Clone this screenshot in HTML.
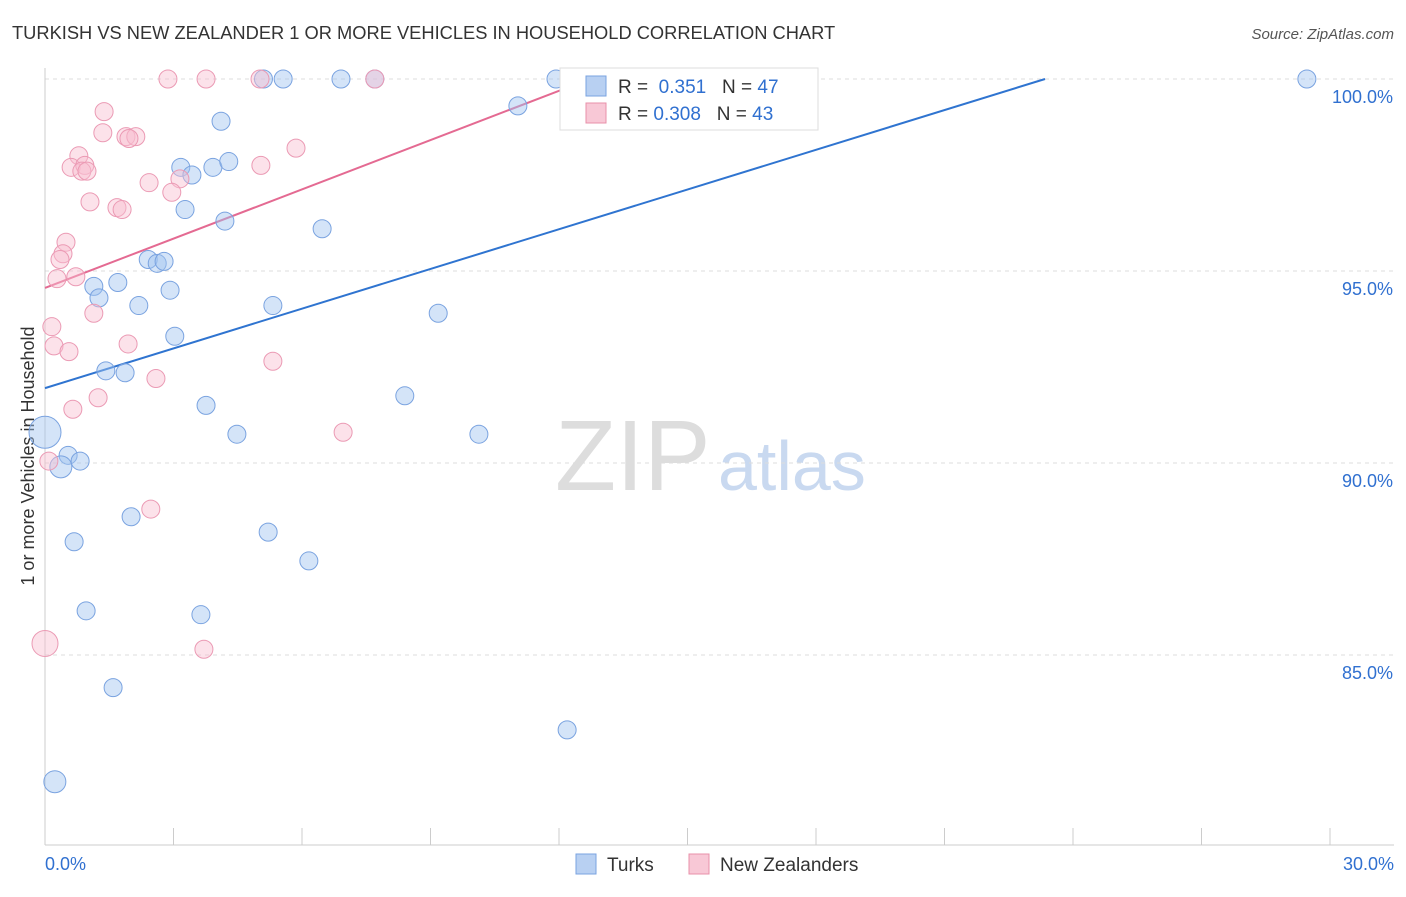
<!DOCTYPE html>
<html><head><meta charset="utf-8"><style>
body{margin:0;background:#fff;font-family:"Liberation Sans",sans-serif;}
svg text{font-family:"Liberation Sans",sans-serif;}
</style></head><body>
<svg id="chart" width="1406" height="892">
<text x="12" y="39" font-size="18.3" fill="#333">TURKISH VS NEW ZEALANDER 1 OR MORE VEHICLES IN HOUSEHOLD CORRELATION CHART</text>
<text x="1394" y="39" font-size="15" fill="#555" text-anchor="end" font-style="italic">Source: ZipAtlas.com</text>
<text x="555" y="490" font-size="100" fill="#ddd" font-family="Liberation Serif">ZIP</text>
<text x="718" y="490" font-size="70" fill="#c9d9f0">atlas</text>
<text transform="translate(34,456) rotate(-90)" font-size="18" fill="#333" text-anchor="middle">1 or more Vehicles in Household</text>
<g id="grid"></g><g id="lines"></g><g id="pts"></g>
<g>
<rect x="560" y="68" width="258" height="62" fill="#fff" stroke="#ddd"/>
<rect x="586" y="76" width="20" height="20" fill="#b8d0f2" stroke="#7aa3e0"/>
<text x="618" y="93" font-size="19" fill="#333">R = <tspan fill="#3070d0">&#160;0.351</tspan>&#160;&#160;&#160;N = <tspan fill="#3070d0">47</tspan></text>
<rect x="586" y="103" width="20" height="20" fill="#f8c8d6" stroke="#e890aa"/>
<text x="618" y="120" font-size="19" fill="#333">R = <tspan fill="#3070d0">0.308</tspan>&#160;&#160;&#160;N = <tspan fill="#3070d0">43</tspan></text>
</g>
<g>
<rect x="576" y="854" width="20" height="20" fill="#b8d0f2" stroke="#7aa3e0"/>
<text x="607" y="871" font-size="19" fill="#333">Turks</text>
<rect x="689" y="854" width="20" height="20" fill="#f8c8d6" stroke="#e890aa"/>
<text x="720" y="871" font-size="19" fill="#333">New Zealanders</text>
</g>
</svg>
<script>
const yTicks=[100,95,90,85];
const yTickLabels=["100.0%","95.0%","90.0%","85.0%"];
const xTickLabels=["0.0%","30.0%"];
const turksX=[5.1,5.56,6.91,7.7,11.93,29.46,11.04,4.11,3.17,3.92,4.29,3.43,3.27,4.2,6.47,2.41,2.62,2.78,1.7,1.14,1.26,2.92,2.19,5.32,9.18,3.03,1.42,1.87,8.4,3.76,4.48,10.13,0,0.54,0.82,0.37,2.01,5.21,0.68,6.16,0.96,3.64,1.59,12.19,0.23];
const turksY=[100,100,100,100,100,100,99.3,98.9,97.7,97.7,97.85,97.5,96.6,96.3,96.1,95.3,95.2,95.25,94.7,94.6,94.3,94.5,94.1,94.1,93.9,93.3,92.4,92.35,91.75,91.5,90.75,90.75,90.8,90.2,90.05,89.9,88.6,88.2,87.95,87.45,86.15,86.05,84.15,83.05,81.7];
const turksR=[9,9,9,9,9,9,9,9,9,9,9,9,9,9,9,9,9,9,9,9,9,9,9,9,9,9,9,9,9,9,9,9,16,9,9,11,9,9,9,9,9,9,9,9,11];
const nzX=[2.87,3.76,5.02,7.7,12.35,1.38,1.35,1.89,2.12,1.96,5.86,0.79,0.61,0.93,0.86,0.98,5.04,2.43,3.15,2.96,1.05,1.68,1.8,0.49,0.42,0.35,0.28,0.72,1.14,0.16,0.21,0.56,1.94,5.32,2.59,1.24,0.65,6.96,0.09,2.47,0,3.71];
const nzY=[100,100,100,100,100,99.15,98.6,98.5,98.5,98.45,98.2,98,97.7,97.75,97.6,97.6,97.75,97.3,97.4,97.05,96.8,96.65,96.6,95.75,95.45,95.3,94.8,94.85,93.9,93.55,93.05,92.9,93.1,92.65,92.2,91.7,91.4,90.8,90.05,88.8,85.3,85.15];
const nzR=[9,9,9,9,9,9,9,9,9,9,9,9,9,9,9,9,9,9,9,9,9,9,9,9,9,9,9,9,9,9,9,9,9,9,9,9,9,9,9,9,13,9];
const trendTurks=[91.95,0.3448];
const trendNZ=[94.56,0.4277];
const X=v=>45+v*1285/30, Y=v=>79+(100-v)*38.4;
const ns="http://www.w3.org/2000/svg";
function mk(p,t,a){const e=document.createElementNS(ns,t);for(const k in a)e.setAttribute(k,a[k]);p.appendChild(e);return e;}
const g=document.getElementById('grid');
yTicks.forEach((t,i)=>{
 const l=mk(g,'line',{x1:45,x2:1394,y1:Y(t),y2:Y(t),stroke:'#ddd','stroke-dasharray':'4,4'});
 
 
 const tx=mk(g,'text',{x:1393,y:Y(t)+24,'font-size':18,fill:'#3070d0','text-anchor':'end'});tx.textContent=yTickLabels[i];
 
 
});
const ax=mk(g,'line',{x1:45,x2:45,y1:68,y2:845,stroke:'#ccc'});


const bx=mk(g,'line',{x1:45,x2:1394,y1:845,y2:845,stroke:'#ccc'});


for(let i=0;i<=10;i++){const t=mk(g,'line',{x1:X(i*3),x2:X(i*3),y1:828,y2:845,stroke:'#ccc'});
 
 }
const x0=mk(g,'text',{x:45,y:870,'font-size':18,fill:'#3070d0'});x0.textContent=xTickLabels[0];


const x1=mk(g,'text',{x:1394,y:870,'font-size':18,fill:'#3070d0','text-anchor':'end'});x1.textContent=xTickLabels[1];


const L=document.getElementById('lines');
function trend(tr,col,name){const xe=(100-tr[0])/tr[1];
 const l=mk(L,'line',{x1:X(0),y1:Y(tr[0]),x2:X(xe),y2:Y(100),stroke:col,'stroke-width':2});
 
 }
trend(trendTurks,'#2f74d0','turks-trend-line');
trend(trendNZ,'#e46a92','nz-trend-line');
const P=document.getElementById('pts');
turksX.forEach((x,i)=>{const c=mk(P,'circle',{cx:X(x),cy:Y(turksY[i]),r:turksR[i],fill:'rgba(160,195,240,0.45)',stroke:'#7aa3e0','stroke-width':1});
 
 });
nzX.forEach((x,i)=>{const c=mk(P,'circle',{cx:X(x),cy:Y(nzY[i]),r:nzR[i],fill:'rgba(248,190,208,0.45)',stroke:'#eb9ab4','stroke-width':1});
 
 });
</script>
</body></html>
